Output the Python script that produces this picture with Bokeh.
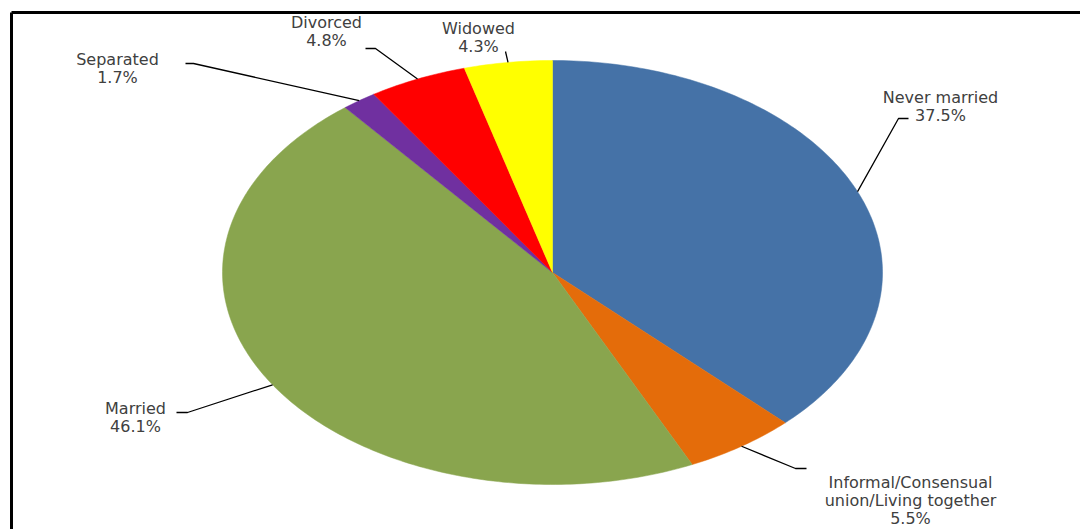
import numpy as np
from bokeh.plotting import figure, ColumnDataSource
from bokeh.models import Range1d
from bokeh.core.properties import value
from bokeh.embed import file_html
from bokeh.resources import INLINE

# ---- data ----
categories = ["Never married", "Informal/Consensual union/Living together",
              "Married", "Separated", "Divorced", "Widowed"]
label_names = ["Never married", "Informal/Consensual\nunion/Living together",
               "Married", "Separated", "Divorced", "Widowed"]
values = [37.5, 5.5, 46.1, 1.7, 4.8, 4.3]
colors = ["#4572A7", "#E46C0A", "#89A54E", "#7030A0", "#FF0000", "#FFFF00"]

# ---- layout (pixel-like coordinates, y pointing down) ----
W, H = 1080, 529
CX, CY, RX, RY = 552, 272, 330, 212
label_anchor = [(940, 97), (910, 482), (135, 408), (117, 59), (326, 22), (478, 28)]
leader_knee = [((898, 118), (908, 118)), ((795, 468), (806, 468)),
               ((187, 412), (176, 412)), ((193, 63), (185, 63)),
               ((375, 48), (365, 48)), ((505, 51), (505, 51))]
LINE_H = 18

p = figure(width=W, height=H, output_backend="svg", toolbar_location=None,
           x_range=Range1d(0, W), y_range=Range1d(H, 0), min_border=0)
p.axis.visible = False
p.xgrid.visible = False
p.ygrid.visible = False
p.outline_line_color = None
p.background_fill_color = "white"
p.border_fill_color = "white"

vals = np.array(values, dtype=float)
frac = vals / vals.sum()
ends = np.cumsum(frac)
starts = ends - frac

def ell_pt(theta):
    return CX + RX * np.cos(theta), CY - RY * np.sin(theta)

xs, ys = [], []
for s, e in zip(starts, ends):
    t0 = np.pi / 2 - s * 2 * np.pi
    t1 = np.pi / 2 - e * 2 * np.pi
    n = max(4, int(abs(t1 - t0) / (2 * np.pi) * 400))
    th = np.linspace(t0, t1, n)
    px, py = ell_pt(th)
    xs.append([CX] + list(px) + [CX])
    ys.append([CY] + list(py) + [CY])

p.patches(xs=xs, ys=ys, fill_color=colors, line_color=colors, line_width=0.5)

# leader lines
lx, ly = [], []
for (s, e), (knee, end) in zip(zip(starts, ends), leader_knee):
    tm = np.pi / 2 - (s + e) / 2 * 2 * np.pi
    px, py = ell_pt(tm)
    lx.append([px, knee[0], end[0]])
    ly.append([py, knee[1], end[1]])
p.multi_line(xs=lx, ys=ly, line_color="black", line_width=1.3)

# labels
tx, ty, tt = [], [], []
for name, v, (ax, ay) in zip(label_names, values, label_anchor):
    lines = name.split("\n") + [f"{v:.1f}%"]
    for i, ln in enumerate(lines):
        tx.append(ax)
        ty.append(ay + i * LINE_H)
        tt.append(ln)
src = ColumnDataSource(dict(x=tx, y=ty, text=tt))
p.text(x="x", y="y", text="text", source=src, text_align="center",
       text_baseline="middle", text_font=value("DejaVu Sans"),
       text_font_size="16px", text_color="#404040")

# frame (top and left edges)
p.multi_line(xs=[[11, W], [11, 11]], ys=[[12, 12], [12, H]],
             line_color="black", line_width=3)

open("out.html", "w").write(file_html(p, INLINE))
